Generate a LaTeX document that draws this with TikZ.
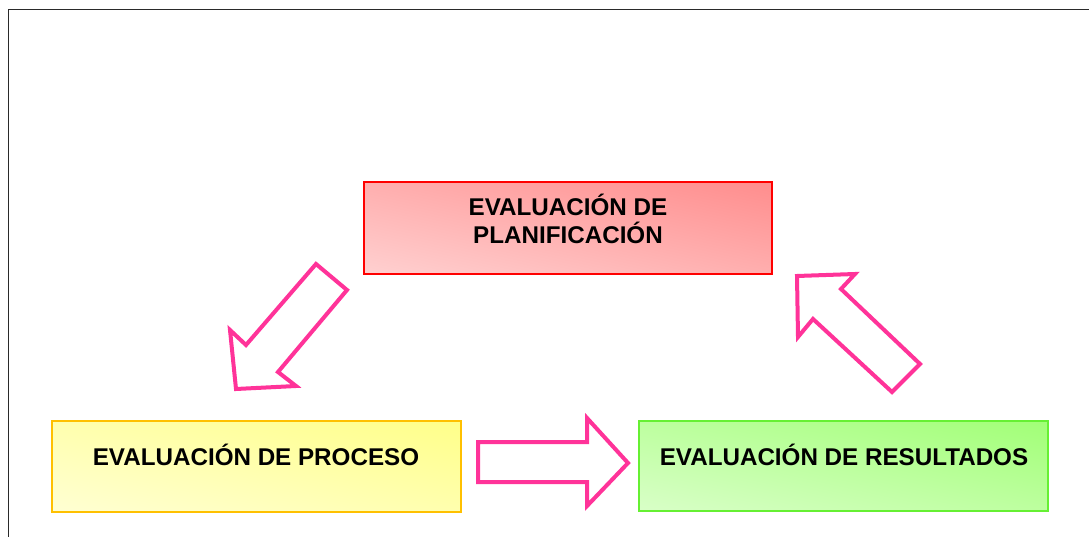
\documentclass[tikz,border=0pt]{standalone}
\usepackage{fontspec}
\setmainfont{Liberation Sans}
\definecolor{pinkarrow}{HTML}{FF3399}
\definecolor{redline}{HTML}{FF0000}
\definecolor{redtop}{HTML}{FF7F7F}
\definecolor{redbot}{HTML}{FFDEDE}
\definecolor{yelline}{HTML}{FFC000}
\definecolor{yeltop}{HTML}{FFFF7A}
\definecolor{yelbot}{HTML}{FFFFE2}
\definecolor{grnline}{HTML}{66F033}
\definecolor{grntop}{HTML}{96FF66}
\definecolor{grnbot}{HTML}{E4FFD8}
\definecolor{frameline}{HTML}{2A2A2A}
\pgfdeclareverticalshading{redramp}{100bp}{color(0bp)=(redbot); color(100bp)=(redtop)}
\pgfdeclareverticalshading{yelramp}{100bp}{color(0bp)=(yelbot); color(100bp)=(yeltop)}
\pgfdeclareverticalshading{grnramp}{100bp}{color(0bp)=(grnbot); color(100bp)=(grntop)}
\tikzset{
  evalbox/.style={draw, line width=1.5pt, rectangle, inner sep=0pt},
  evaltext/.style={font=\fontsize{24.2}{28}\selectfont\bfseries, inner sep=0pt, align=center},
  bigarrow/.style={draw=pinkarrow, line width=4pt, fill=white, line join=miter},
  diagshade/.style={shading=#1, shading angle=-45},
}
\begin{document}
\begin{tikzpicture}[x=1pt,y=-1pt]
\useasboundingbox (0,0) rectangle (1089,537);
\draw[frameline, line width=1.8pt] (1089,9.5) -- (8.5,9.5) -- (8.5,537);
% diagonal gradient fills
\begin{scope}[transform canvas={shift={(364,274)}, xscale=4.08, yscale=0.92}]
  \shade[diagshade=redramp] (0,0) rectangle (100,-100);
\end{scope}
\begin{scope}[transform canvas={shift={(52,512)}, xscale=4.09, yscale=0.91}]
  \shade[diagshade=yelramp] (0,0) rectangle (100,-100);
\end{scope}
\begin{scope}[transform canvas={shift={(639,511)}, xscale=4.09, yscale=0.90}]
  \shade[diagshade=grnramp] (0,0) rectangle (100,-100);
\end{scope}
% boxes
\node[evalbox, draw=redline, minimum width=408pt, minimum height=92pt] (plan) at (568,228) {};
\node[evalbox, draw=yelline, minimum width=409pt, minimum height=91pt] (proc) at (256.5,466.5) {};
\node[evalbox, draw=grnline, minimum width=409pt, minimum height=90pt] (res) at (843.5,466) {};
% texts
\node[evaltext] (plantext) at (568,219) {EVALUACIÓN DE\\PLANIFICACIÓN};
\node[evaltext, anchor=base] (proctext) at (256,465.5) {EVALUACIÓN DE PROCESO};
\node[evaltext, anchor=base] (restext) at (844,465.5) {EVALUACIÓN DE RESULTADOS};
% arrows
\draw[bigarrow] (316,264) -- (347,290) -- (278,372) -- (296,386) -- (236,389) -- (230,330) -- (246,345) -- cycle;
\draw[bigarrow] (478,442) -- (587,442) -- (587,418) -- (628,463) -- (587,506) -- (587,482) -- (478,482) -- cycle;
\draw[bigarrow] (797,276) -- (855,274) -- (841,289) -- (920,364) -- (892,392) -- (813,319) -- (798,337) -- cycle;
\end{tikzpicture}
\end{document}
